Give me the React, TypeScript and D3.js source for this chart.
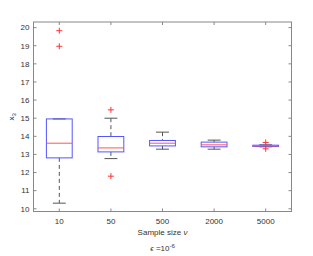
import React from 'react';
import * as d3 from 'd3';

// sample sizes and box statistics for x3
const sampleSizes = ['10', '50', '500', '2000', '5000'];
const lowerWhisker = [10.31, 12.77, 13.29, 13.29, 13.42];
const q1 = [12.81, 13.14, 13.47, 13.42, 13.44];
const median = [13.62, 13.36, 13.62, 13.53, 13.47];
const q3 = [14.96, 13.99, 13.77, 13.68, 13.51];
const upperWhisker = [14.96, 15.0, 14.23, 13.79, 13.53];
const outliers = [[19.83, 18.97], [15.46, 11.8], [], [], [13.66, 13.31]];
const yTicks = [10, 11, 12, 13, 14, 15, 16, 17, 18, 19, 20];

const App: React.FC = () => {
  const width = 313;
  const height = 256;
  const left = 33.5;
  const right = 291.5;
  const top = 22;
  const bottom = 211.5;

  const x = d3.scaleBand<string>().domain(sampleSizes).range([left, right]);
  const y = d3.scaleLinear().domain([9.85, 20.31]).range([bottom, top]);
  const boxW = x.bandwidth() * 0.5;
  const capW = x.bandwidth() * 0.25;
  const font = 'Liberation Sans, Arial, sans-serif';
  const axisColor = '#888';

  return (
    <svg width={width} height={height} style={{ position: 'absolute', left: 0, top: 0 }}>
      <rect width={width} height={height} fill="#fff" />
      <rect x={left} y={top} width={right - left} height={bottom - top} fill="#fff" stroke={axisColor} strokeWidth={1} />
      {yTicks.map((t) => (
        <g key={t}>
          <line x1={left} x2={left + 3} y1={y(t)} y2={y(t)} stroke={axisColor} />
          <line x1={right - 3} x2={right} y1={y(t)} y2={y(t)} stroke={axisColor} />
          <text x={left - 4} y={y(t)} dy="0.35em" textAnchor="end" fontSize={8} fontFamily={font} fill="#333">
            {t}
          </text>
        </g>
      ))}
      {sampleSizes.map((s) => {
        const cx = (x(s) as number) + x.bandwidth() / 2;
        return (
          <g key={s}>
            <line x1={cx} x2={cx} y1={bottom} y2={bottom - 3} stroke={axisColor} />
            <line x1={cx} x2={cx} y1={top} y2={top + 3} stroke={axisColor} />
            <text x={cx} y={bottom + 10} dy="0.35em" textAnchor="middle" fontSize={8} fontFamily={font} fill="#333">
              {s}
            </text>
          </g>
        );
      })}
      {sampleSizes.map((s, i) => {
        const cx = (x(s) as number) + x.bandwidth() / 2;
        return (
          <g key={'b' + s}>
            <line x1={cx} x2={cx} y1={y(upperWhisker[i])} y2={y(q3[i])} stroke="#555" strokeDasharray="4,3" />
            <line x1={cx} x2={cx} y1={y(q1[i])} y2={y(lowerWhisker[i])} stroke="#555" strokeDasharray="4,3" />
            <line x1={cx - capW / 2} x2={cx + capW / 2} y1={y(upperWhisker[i])} y2={y(upperWhisker[i])} stroke="#555" />
            <line x1={cx - capW / 2} x2={cx + capW / 2} y1={y(lowerWhisker[i])} y2={y(lowerWhisker[i])} stroke="#555" />
            <rect x={cx - boxW / 2} y={y(q3[i])} width={boxW} height={Math.max(0.5, y(q1[i]) - y(q3[i]))} fill="none" stroke="#5555ff" />
            <line x1={cx - boxW / 2} x2={cx + boxW / 2} y1={y(median[i])} y2={y(median[i])} stroke="#ff5555" />
            {outliers[i].map((o, j) => (
              <g key={j} stroke="#ff3333">
                <line x1={cx - 3} x2={cx + 3} y1={y(o)} y2={y(o)} />
                <line x1={cx} x2={cx} y1={y(o) - 3} y2={y(o) + 3} />
              </g>
            ))}
          </g>
        );
      })}
      <text transform={`translate(14,${(top + bottom) / 2}) rotate(-90)`} textAnchor="middle" fontSize={8} fontFamily={font} fill="#333">
        x<tspan fontSize={6} dy={2}>3</tspan>
      </text>
      <text x={(left + right) / 2} y={235} textAnchor="middle" fontSize={8} fontFamily={font} fill="#333">
        Sample size <tspan fontStyle="italic">ν</tspan>
      </text>
      <text x={(left + right) / 2} y={251} textAnchor="middle" fontSize={8} fontFamily={font} fill="#333">
        <tspan fontStyle="italic">ϵ</tspan> =10<tspan fontSize={6} dy={-3}>-6</tspan>
      </text>
    </svg>
  );
};

export default App;
